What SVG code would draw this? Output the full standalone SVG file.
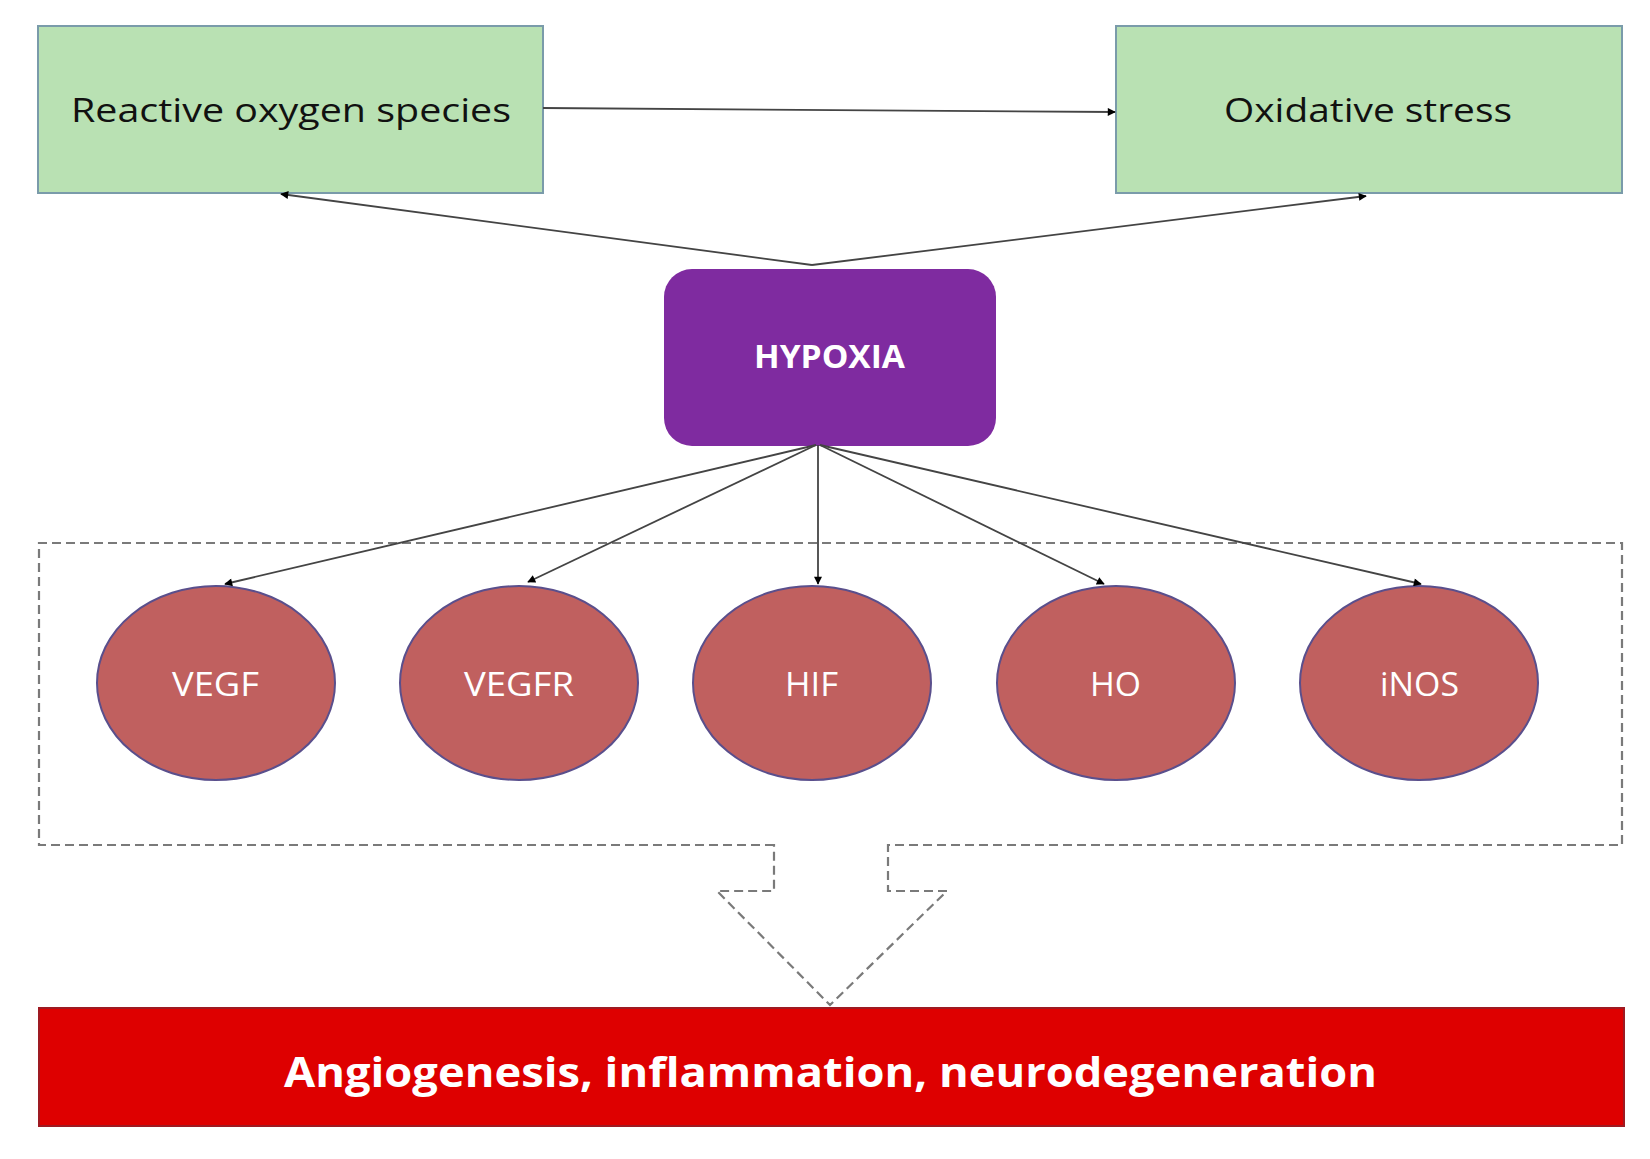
<svg xmlns="http://www.w3.org/2000/svg" width="1650" height="1159" viewBox="0 0 1650 1159">
<style>
.box{fill:#B9E1B3;stroke:#7A9BAA;stroke-width:2}
.t{font-family:"Open Sans","Liberation Sans",sans-serif}
.dark{fill:#111;font-size:33px}
.white{fill:#fff}
.ell{fill:#C0605F;stroke:#5A4F8C;stroke-width:2}
.con{stroke:#444;stroke-width:1.8;fill:none}
.dash{stroke:#7a7a7a;stroke-width:2.2;fill:none;stroke-dasharray:9 5}
</style>
<defs>
<marker id="ah" viewBox="0 0 10 10" refX="9" refY="5" markerWidth="9" markerHeight="8" orient="auto" markerUnits="userSpaceOnUse">
<path d="M0,0 L10,5 L0,10 z" fill="#000"/>
</marker>
</defs>
<rect width="1650" height="1159" fill="#fff"/>
<g id="group-box">
<path class="dash" d="M774,845 L39,845 L39,543 L1622,543 L1622,845 L888,845 L888,891 L947,891 L830,1005 L717,891 L774,891 Z"/>
</g>
<g id="ros">
<rect class="box" x="38" y="26" width="505" height="167"/>
<text class="t dark" x="71" y="122" textLength="440" lengthAdjust="spacingAndGlyphs">Reactive oxygen species</text>
</g>
<g id="oxidative-stress">
<rect class="box" x="1116" y="26" width="506" height="167"/>
<text class="t dark" x="1224" y="122" textLength="288" lengthAdjust="spacingAndGlyphs">Oxidative stress</text>
</g>
<g id="hypoxia">
<rect x="664" y="269" width="332" height="177" rx="28" ry="28" fill="#7F2BA0"/>
<text class="t white" x="754" y="368" font-size="32" font-weight="bold" textLength="151" lengthAdjust="spacingAndGlyphs">HYPOXIA</text>
</g>
<g id="vegf">
<ellipse class="ell" cx="216" cy="683" rx="119" ry="97"/>
<text class="t white" x="172" y="696" font-size="33" textLength="87" lengthAdjust="spacingAndGlyphs">VEGF</text>
</g>
<g id="vegfr">
<ellipse class="ell" cx="519" cy="683" rx="119" ry="97"/>
<text class="t white" x="464" y="696" font-size="33" textLength="110" lengthAdjust="spacingAndGlyphs">VEGFR</text>
</g>
<g id="hif">
<ellipse class="ell" cx="812" cy="683" rx="119" ry="97"/>
<text class="t white" x="785" y="696" font-size="33" textLength="53" lengthAdjust="spacingAndGlyphs">HIF</text>
</g>
<g id="ho">
<ellipse class="ell" cx="1116" cy="683" rx="119" ry="97"/>
<text class="t white" x="1090" y="696" font-size="33" textLength="51" lengthAdjust="spacingAndGlyphs">HO</text>
</g>
<g id="inos">
<ellipse class="ell" cx="1419" cy="683" rx="119" ry="97"/>
<text class="t white" x="1380" y="696" font-size="33" textLength="79" lengthAdjust="spacingAndGlyphs">iNOS</text>
</g>
<g id="outcome">
<rect x="39" y="1008" width="1585" height="118" fill="#DE0000" stroke="#9E1A22" stroke-width="2"/>
<text class="t white" x="284" y="1087" font-size="42" font-weight="bold" textLength="1093" lengthAdjust="spacingAndGlyphs">Angiogenesis, inflammation, neurodegeneration</text>
</g>
<g id="connectors">
<line class="con" x1="543" y1="108" x2="1115" y2="112" marker-end="url(#ah)"/>
<line class="con" x1="812" y1="265" x2="281" y2="194" marker-end="url(#ah)"/>
<line class="con" x1="812" y1="265" x2="1366" y2="196" marker-end="url(#ah)"/>
<line class="con" x1="816" y1="445" x2="225" y2="584" marker-end="url(#ah)"/>
<line class="con" x1="816" y1="445" x2="528" y2="582" marker-end="url(#ah)"/>
<line class="con" x1="818" y1="445" x2="818" y2="584" marker-end="url(#ah)"/>
<line class="con" x1="820" y1="445" x2="1104" y2="584" marker-end="url(#ah)"/>
<line class="con" x1="820" y1="445" x2="1421" y2="584" marker-end="url(#ah)"/>
</g>
</svg>
